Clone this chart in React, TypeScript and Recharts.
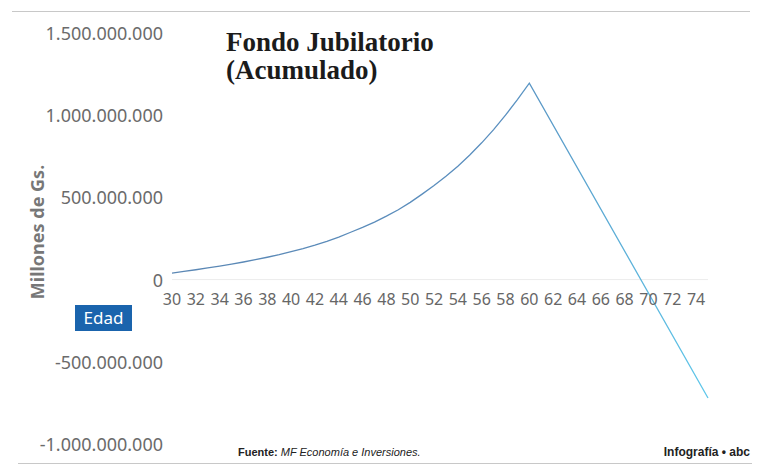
import { Line, LineChart, ReferenceLine, XAxis, YAxis } from "recharts";

// edad (años) y fondo acumulado (millones de Gs.)
const edades = [
  30, 31, 32, 33, 34, 35, 36, 37, 38, 39, 40, 41, 42, 43, 44, 45, 46, 47, 48, 49, 50, 51, 52, 53, 54, 55,
  56, 57, 58, 59, 60, 75,
];
const fondoMillones = [
  40, 50, 60, 71, 82, 94, 107, 121, 136, 152, 170, 189, 210, 233, 259, 288, 318, 350, 386, 425, 470, 520,
  572, 628, 690, 758, 832, 912, 1000, 1095, 1195, -720,
];
const edadTicks = [30, 32, 34, 36, 38, 40, 42, 44, 46, 48, 50, 52, 54, 56, 58, 60, 62, 64, 66, 68, 70, 72, 74];
const montoTicks = [-1000000000, -500000000, 0, 500000000, 1000000000, 1500000000];

const data = edades.map((edad, i) => ({ edad, fondo: fondoMillones[i] * 1000000 }));

const W = 770;
const H = 475;
const TOP = 33;
const BOTTOM = 444;
const zeroY = TOP + ((BOTTOM - TOP) * 1500) / 2500;

const fmt = (v: number) => {
  const s = Math.abs(v).toString().replace(/\B(?=(\d{3})+(?!\d))/g, ".");
  return v < 0 ? "-" + s : s;
};

const axisFont = "'Noto Sans', sans-serif";

function YTick(props: any) {
  const { y, payload } = props;
  return (
    <text x={163} y={y} textAnchor="end" dominantBaseline="central" fill="#6b6b6b" fontSize={18} fontFamily={axisFont}>
      {fmt(payload.value)}
    </text>
  );
}

function XTick(props: any) {
  const { x, payload } = props;
  return (
    <text x={x} y={zeroY + 19} textAnchor="middle" dominantBaseline="central" fill="#666" fontSize={16} fontFamily={axisFont}>
      {payload.value}
    </text>
  );
}

export default function App() {
  return (
    <div style={{ position: "absolute", left: 0, top: 0, width: W, height: H, background: "#fff" }}>
      <div style={{ position: "absolute", left: 12, top: 11, width: 738, height: 1, background: "#c8c8c8" }} />
      <LineChart width={W} height={H} data={data} margin={{ top: TOP, right: 62, bottom: 1, left: 0 }}>
        <defs>
          <linearGradient id="lineGrad" x1="0" y1="0" x2="1" y2="0">
            <stop offset="0%" stopColor="#5b87b4" />
            <stop offset="62%" stopColor="#5a8fbf" />
            <stop offset="100%" stopColor="#5ec7ea" />
          </linearGradient>
        </defs>
        <ReferenceLine y={0} stroke="#ececec" strokeWidth={1} />
        <XAxis
          dataKey="edad"
          type="number"
          domain={[30, 75]}
          ticks={edadTicks}
          height={30}
          axisLine={false}
          tickLine={false}
          tick={<XTick />}
          interval={0}
        />
        <YAxis
          type="number"
          domain={[-1000000000, 1500000000]}
          ticks={montoTicks}
          width={172}
          axisLine={false}
          tickLine={false}
          tick={<YTick />}
          interval={0}
          label={{
            content: () => (
              <text
                x={44}
                y={232}
                transform="rotate(-90 44 232)"
                textAnchor="middle"
                fill="#777"
                fontSize={18}
                fontWeight={700}
                fontFamily={axisFont}
              >
                Millones de Gs.
              </text>
            ),
          }}
        />
        <Line
          type="linear"
          dataKey="fondo"
          stroke="url(#lineGrad)"
          strokeWidth={1.3}
          dot={false}
          isAnimationActive={false}
        />
      </LineChart>
      <div
        style={{
          position: "absolute",
          left: 226,
          top: 28,
          fontFamily: "'Liberation Serif', serif",
          fontWeight: 700,
          fontSize: 27,
          lineHeight: "28px",
          color: "#1b1b1b",
        }}
      >
        Fondo Jubilatorio
        <br />
        (Acumulado)
      </div>
      <div
        style={{
          position: "absolute",
          left: 75,
          top: 305,
          width: 57,
          height: 26,
          background: "#1a64ad",
          color: "#fff",
          fontFamily: axisFont,
          fontSize: 17,
          lineHeight: "26px",
          textAlign: "center",
        }}
      >
        Edad
      </div>
      <div
        style={{
          position: "absolute",
          left: 238,
          top: 446,
          fontFamily: "'Liberation Sans Narrow', 'Liberation Sans', sans-serif",
          fontSize: 11,
          color: "#222",
        }}
      >
        <b>Fuente:</b> <i>MF Economía e Inversiones.</i>
      </div>
      <div
        style={{
          position: "absolute",
          right: 20,
          top: 445,
          fontFamily: "'Liberation Sans Narrow', 'Liberation Sans', sans-serif",
          fontSize: 12,
          fontWeight: 700,
          color: "#222",
        }}
      >
        Infografía • abc
      </div>
      <div style={{ position: "absolute", left: 18, top: 463, width: 734, height: 1, background: "#c8c8c8" }} />
    </div>
  );
}
